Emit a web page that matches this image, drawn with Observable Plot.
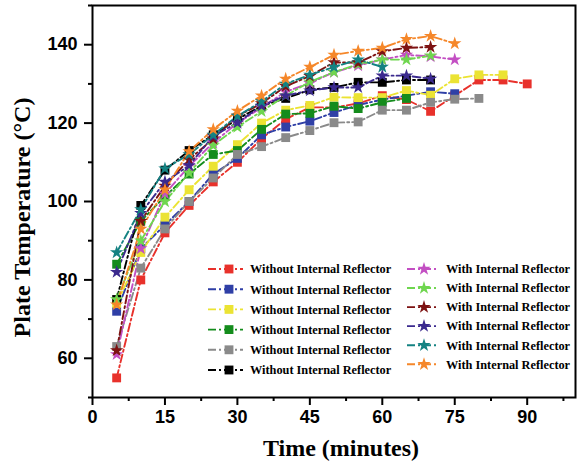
<!DOCTYPE html>
<html><head><meta charset="utf-8">
<script src="https://cdn.jsdelivr.net/npm/d3@7"></script>
<script src="https://cdn.jsdelivr.net/npm/@observablehq/plot@0.6"></script>
<style>
body{margin:0;background:#fff;}
#wrap{position:relative;width:578px;height:463px;}
#legend{position:absolute;left:0;top:0;pointer-events:none;}
</style></head><body><div id="wrap"></div>
<script>
const times = [5,10,15,20,25,30,35,40,45,50,55,60,65,70,75,80,85,90];

const labelWithout = "Without Internal Reflector";
const labelWith = "With Internal Reflector";

const redWithout    = [55, 80, 92, 99, 105, 110, 116, 121, 124, 124, 125, 127, 126, 123, 127, 131, 131, 130];
const blueWithout   = [72, 88, 94, 100, 107, 111, 117, 119, 120.5, 122.7, 124.6, 126, 127, 128, 127.5];
const yellowWithout = [74, 87, 96, 103, 109, 114.5, 120, 123.3, 124.5, 126.6, 126.5, 126.5, 128.3, 127.1, 131.3, 132.3, 132.3];
const greenWithout  = [84, 95, 101.3, 107, 112, 113, 118.4, 122.3, 122.5, 124.3, 123.7, 125.3, 126.3];
const grayWithout   = [63, 83, 93, 100, 106, 112, 114, 116.3, 118.1, 120.1, 120.3, 123.3, 123.3, 125.3, 126.1, 126.3];
const blackWithout  = [75, 99, 108, 113, 117, 121, 124.4, 126.3, 128.5, 129.1, 130.4, 130.4, 131, 131];

const magentaWith   = [61, 88, 102, 109, 115, 120, 124, 128, 130.2, 133, 134.7, 136.2, 137.4, 137, 136.2];
const lightGreenWith= [75, 90, 100, 107.3, 114.3, 119, 123, 127, 130.5, 133, 135, 136.2, 136.2, 137.2];
const darkRedWith   = [62, 95, 104, 110.7, 116, 121.8, 125, 129.4, 132, 135.5, 135.4, 138.3, 139.2, 139.4];
const navyWith      = [82, 97, 105, 109.2, 116.7, 120.1, 124.4, 127, 128.3, 129.1, 129.1, 132.1, 132.1, 131.3];
const tealWith      = [87, 98, 108.4, 112, 117, 121.8, 125.5, 130, 132.3, 134.3, 136.2, 134.3];
const orangeWith    = [73.7, 93, 103, 112.8, 118.4, 123.1, 127, 131.3, 134.3, 137.4, 138.4, 139.2, 141.4, 142.2, 140.3];

const xTicks = [0, 15, 30, 45, 60, 75, 90];
const xMinorTicks = [7.5, 22.5, 37.5, 52.5, 67.5, 82.5, 97.5];
const yTicks = [60, 80, 100, 120, 140];
const yMinorTicks = [50, 70, 90, 110, 130, 150];

const series = [
  {id: "s1", label: labelWithout, kind: "square", color: "#e8312b", values: redWithout},
  {id: "s2", label: labelWithout, kind: "square", color: "#2f3fa6", values: blueWithout},
  {id: "s3", label: labelWithout, kind: "square", color: "#ebe333", values: yellowWithout},
  {id: "s4", label: labelWithout, kind: "square", color: "#148c1c", values: greenWithout},
  {id: "s5", label: labelWithout, kind: "square", color: "#8a8a8a", values: grayWithout},
  {id: "s6", label: labelWithout, kind: "square", color: "#000000", values: blackWithout},
  {id: "s7", label: labelWith, kind: "star", color: "#c34fc3", values: magentaWith},
  {id: "s8", label: labelWith, kind: "star", color: "#6fd64f", values: lightGreenWith},
  {id: "s9", label: labelWith, kind: "star", color: "#7d1212", values: darkRedWith},
  {id: "s10", label: labelWith, kind: "star", color: "#3b2a8e", values: navyWith},
  {id: "s11", label: labelWith, kind: "star", color: "#148282", values: tealWith},
  {id: "s12", label: labelWith, kind: "star", color: "#f5872a", values: orangeWith}
];

const rows = series.flatMap(s => s.values.map((v, i) => ({t: times[i], v, id: s.id, kind: s.kind})));

const dash = "8,3,2,3";
const squareR = 5;
const starR = 4.2;
const tickFont = {fontSize: 18, fontWeight: "bold", fontFamily: "Liberation Sans, Arial, sans-serif"};
const titleFont = {fontSize: 24, fontWeight: "bold", fontFamily: "Liberation Serif, Times New Roman, serif"};

const chart = Plot.plot({
  width: 578,
  height: 463,
  marginLeft: 92,
  marginRight: 3,
  marginTop: 5,
  marginBottom: 66,
  style: {background: "#fff", color: "#000"},
  x: {domain: [0, 100]},
  y: {domain: [50, 150]},
  color: {domain: series.map(s => s.id), range: series.map(s => s.color)},
  marks: [
    Plot.line(rows, {x: "t", y: "v", z: "id", stroke: "id", strokeWidth: 1.9, strokeDasharray: dash}),
    Plot.dot(rows.filter(d => d.kind === "square"), {x: "t", y: "v", fill: "id", symbol: "square", r: squareR}),
    Plot.dot(rows.filter(d => d.kind === "star"), {x: "t", y: "v", fill: "id", symbol: "star", r: starR}),
    Plot.axisX({ticks: xTicks, tickSize: 8, tickPadding: 5, strokeWidth: 2, label: null, ...tickFont}),
    Plot.axisX({ticks: xMinorTicks, tickSize: 4, strokeWidth: 2, text: null, label: null}),
    Plot.axisY({ticks: yTicks, tickSize: 8, tickPadding: 7, strokeWidth: 2, label: null, ...tickFont}),
    Plot.axisY({ticks: yMinorTicks, tickSize: 4, strokeWidth: 2, text: null, label: null}),
    Plot.frame({strokeWidth: 2}),
    Plot.text(["Time (minutes)"], {frameAnchor: "bottom", dy: 51, dx: 7, lineAnchor: "middle", textAnchor: "middle", ...titleFont}),
    Plot.text(["Plate Temperature (°C)"], {frameAnchor: "left", rotate: -90, dx: -70, dy: 16, lineAnchor: "middle", textAnchor: "middle", ...titleFont})
  ]
});

const wrap = document.getElementById("wrap");
wrap.appendChild(chart);

// Legend overlay
const lg = d3.select(wrap).append("svg").attr("id", "legend").attr("width", 578).attr("height", 463);
const cols = [
  {x0: 208, x1: 243, mx: 229, tx: 250, y0: 269, dy: 20.2},
  {x0: 407, x1: 439, mx: 424, tx: 446, y0: 269, dy: 19.05}
];
series.forEach((s, i) => {
  const c = cols[i < 6 ? 0 : 1];
  const y = c.y0 + (i % 6) * c.dy;
  const g = lg.append("g");
  g.append("line").attr("x1", c.x0).attr("x2", c.x1).attr("y1", y).attr("y2", y)
    .attr("stroke", s.color).attr("stroke-width", 1.9).attr("stroke-dasharray", dash);
  const sym = s.kind === "square" ? d3.symbolSquare : d3.symbolStar;
  const rr = s.kind === "square" ? squareR : starR;
  g.append("path").attr("d", d3.symbol(sym, Math.PI * rr * rr)()).attr("transform", `translate(${c.mx},${y})`).attr("fill", s.color);
  g.append("text").attr("x", c.tx).attr("y", y).attr("dy", "0.35em")
    .attr("font-family", "Liberation Serif, Times New Roman, serif").attr("font-weight", "bold").attr("font-size", 12.3)
    .attr("fill", "#000").text(s.label);
});
</script></body></html>
